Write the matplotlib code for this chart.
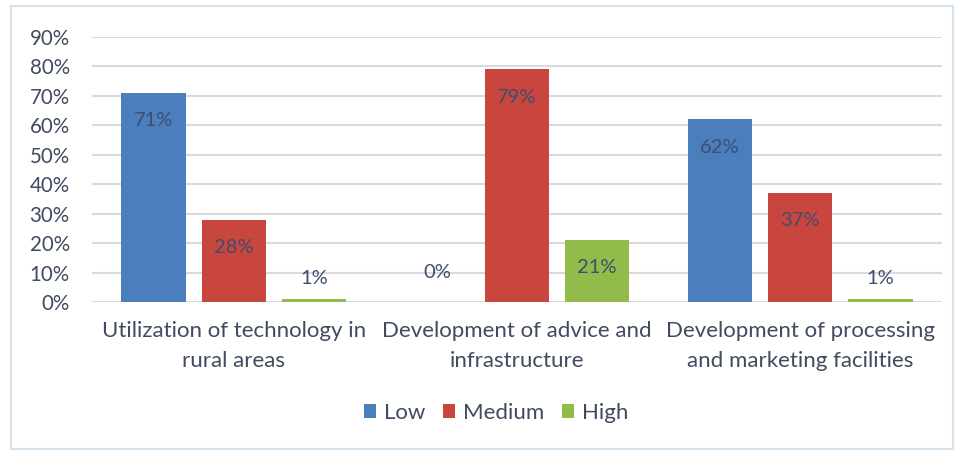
import matplotlib
matplotlib.use("Agg")
import matplotlib.pyplot as plt
from matplotlib.patches import Rectangle, Patch
import numpy as np

categories = ["Utilization of technology in\nrural areas",
              "Development of advice and\ninfrastructure",
              "Development of processing\nand marketing facilities"]
series_names = ["Low", "Medium", "High"]
low = [0.71, 0.00, 0.62]
medium = [0.28, 0.79, 0.37]
high = [0.01, 0.21, 0.01]
yticks = [0, 0.1, 0.2, 0.3, 0.4, 0.5, 0.6, 0.7, 0.8, 0.9]
ytick_labels = ["0%", "10%", "20%", "30%", "40%", "50%", "60%", "70%", "80%", "90%"]

colors = ["#4a7ebd", "#c9463f", "#93bb4a"]
text_col = "#404a60"
label_col = "#3f4d6e"

plt.rcParams['font.family'] = ['Lato', 'DejaVu Sans']

W, H = 961, 451
fig = plt.figure(figsize=(W / 100, H / 100), dpi=100)
fig.patches.append(Rectangle((11 / W, 1 - 449 / H), (953 - 11) / W, (449 - 6) / H,
                             transform=fig.transFigure, fill=False,
                             edgecolor="#d5e2f0", linewidth=1.5))

ax = fig.add_axes([92 / W, 1 - 302 / H, (942 - 92) / W, (302 - 37) / H])
x = np.arange(len(categories))
bw = 0.226
offs = [-0.283, 0.0, 0.283]
for s, (vals, c, off) in enumerate(zip([low, medium, high], colors, offs)):
    bars = ax.bar(x + off, vals, width=bw, color=c, zorder=3)
    for xi, v in zip(x + off, vals):
        if v >= 0.05:
            ax.annotate(f"{round(v * 100)}%", (xi, v), xytext=(0, -20),
                        textcoords="offset points", ha="center", va="center",
                        fontsize=14.5, color=label_col, zorder=4)
        else:
            ax.annotate(f"{round(v * 100)}%", (xi, v), xytext=(0, 15 if v > 0 else 21),
                        textcoords="offset points", ha="center", va="center",
                        fontsize=14.5, color=label_col, zorder=4)

ax.set_ylim(0, 0.9)
ax.set_xlim(-0.5, 2.5)
ax.set_yticks(yticks)
ax.set_yticklabels(ytick_labels, fontsize=14.8, color=text_col)
ax.set_xticks(x)
ax.set_xticklabels(categories, fontsize=16, color=text_col, linespacing=1.6)
ax.tick_params(axis="both", length=0)
ax.tick_params(axis="y", pad=16)
ax.tick_params(axis="x", pad=14)
ax.yaxis.grid(True, color="#d9d9de", linewidth=1.5, zorder=0)
ax.set_axisbelow(True)
for sp in ax.spines.values():
    sp.set_visible(False)

handles = [Patch(facecolor=c, label=n) for c, n in zip(colors, series_names)]
leg = fig.legend(handles=handles, loc="center", bbox_to_anchor=(496 / W, 1 - 413 / H),
                 ncol=3, frameon=False, fontsize=16, handlelength=0.55, handleheight=0.55,
                 handletextpad=0.35, columnspacing=0.8)
for t in leg.get_texts():
    t.set_color(text_col)

fig.savefig("out.png", dpi=100)
